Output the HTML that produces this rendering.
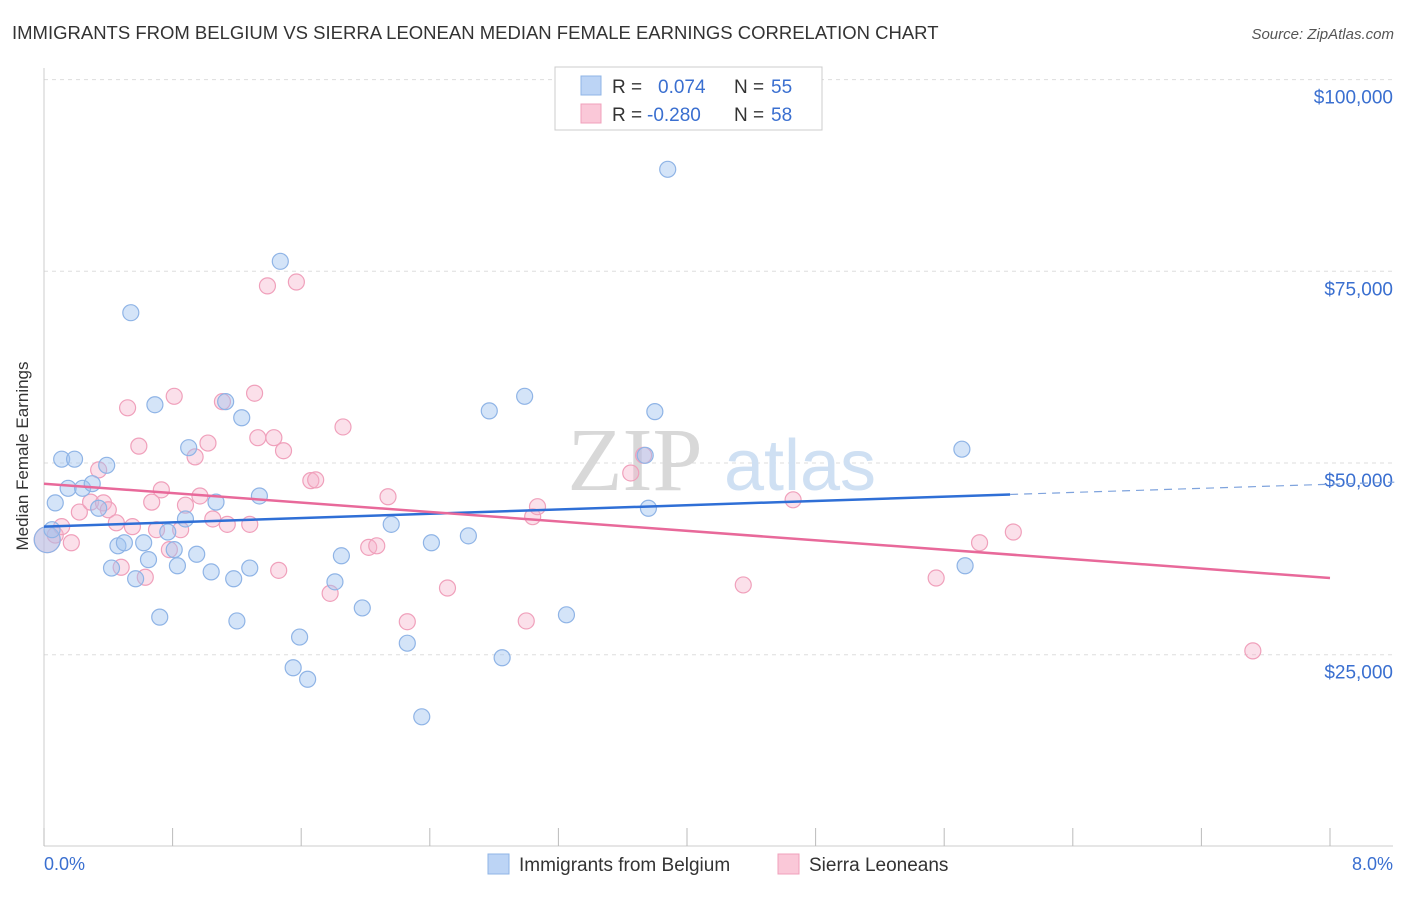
<!DOCTYPE html>
<html><head><meta charset="utf-8"><style>
body{margin:0;background:#fff;font-family:"Liberation Sans",sans-serif;}
</style></head><body>
<svg width="1406" height="892" xmlns="http://www.w3.org/2000/svg" style="font-family:'Liberation Sans',sans-serif">
<text x="12" y="39" font-size="18.5" fill="#333">IMMIGRANTS FROM BELGIUM VS SIERRA LEONEAN MEDIAN FEMALE EARNINGS CORRELATION CHART</text>
<text x="1394" y="39" font-size="15" fill="#555" text-anchor="end" font-style="italic">Source: ZipAtlas.com</text>
<g id="grid"></g>
<g><text x="635" y="490" font-size="90" fill="#d8d8d8" font-family="Liberation Serif,serif" text-anchor="middle">ZIP</text><text x="800" y="490" font-size="72" fill="#cfe0f3" text-anchor="middle">atlas</text></g>
<line x1="44" y1="68" x2="44" y2="846" stroke="#ccc"/>
<line x1="44" y1="846" x2="1393" y2="846" stroke="#ccc"/>
<g id="ticks"></g>
<text x="28" y="456" font-size="17" fill="#333" text-anchor="middle" transform="rotate(-90 28 456)">Median Female Earnings</text>
<text x="44" y="870" font-size="18" fill="#3a6fd0">0.0%</text>
<text x="1393" y="870" font-size="18" fill="#3a6fd0" text-anchor="end">8.0%</text>
<g id="pts"></g>
<g id="lines"></g>
<g>
<rect x="555" y="67" width="267" height="63" fill="#fff" stroke="#ccc"/>
<rect x="581" y="76" width="20" height="19" fill="#bcd4f5" stroke="#8fb4e6"/>
<rect x="581" y="104" width="20" height="19" fill="#fac8d8" stroke="#f0a0bb"/>
<text x="612" y="93" font-size="19" fill="#333">R = </text><text x="658" y="93" font-size="19" fill="#3a6fd0">0.074</text>
<text x="734" y="93" font-size="19" fill="#333">N = </text><text x="771" y="93" font-size="19" fill="#3a6fd0">55</text>
<text x="612" y="121" font-size="19" fill="#333">R = </text><text x="647" y="121" font-size="19" fill="#3a6fd0">-0.280</text>
<text x="734" y="121" font-size="19" fill="#333">N = </text><text x="771" y="121" font-size="19" fill="#3a6fd0">58</text>
</g>
<g>
<rect x="488" y="854" width="21" height="20" fill="#bcd4f5" stroke="#8fb4e6"/>
<text x="519" y="871" font-size="19" fill="#333">Immigrants from Belgium</text>
<rect x="778" y="854" width="21" height="20" fill="#fac8d8" stroke="#f0a0bb"/>
<text x="809" y="871" font-size="19" fill="#333">Sierra Leoneans</text>
</g>
</svg>
<script>
const yTicks=[25000,50000,75000,100000];
const yTickLabels=["$25,000","$50,000","$75,000","$100,000"];
const xTicks=[0,0.8,1.6,2.4,3.2,4,4.8,5.6,6.4,7.2,8];
const blueX=[0.07,0.11,0.19,0.15,0.24,0.30,0.34,0.39,0.42,0.46,0.50,0.57,0.54,0.62,0.65,0.69,0.72,0.77,0.81,0.83,0.88,0.90,0.95,1.04,1.07,1.13,1.18,1.20,1.23,1.28,1.34,1.47,1.59,1.55,1.64,1.81,1.85,1.98,2.16,2.26,2.35,2.41,2.64,2.77,2.85,2.99,3.25,3.74,3.76,3.80,3.88,5.71,5.73,0.02,0.05];
const blueY=[44800,50500,50500,46700,46700,47300,44100,49700,36300,39200,39600,34900,69600,39600,37400,57600,29900,41000,38700,36600,42700,52000,38100,35800,44900,58000,34900,29400,55900,36300,45700,76300,27300,23300,21800,34500,37900,31100,42000,26500,16900,39600,40500,56800,24600,58700,30200,51000,44100,56700,88300,51800,36600,40000,41300];
const pinkX=[0.02,0.07,0.11,0.17,0.22,0.29,0.34,0.37,0.40,0.45,0.48,0.52,0.55,0.59,0.63,0.67,0.70,0.73,0.78,0.81,0.85,0.88,0.94,0.97,1.02,1.05,1.11,1.14,1.28,1.31,1.33,1.39,1.43,1.46,1.49,1.57,1.66,1.69,1.78,1.86,2.02,2.07,2.14,2.26,2.51,3.00,3.04,3.07,3.65,3.73,4.35,4.66,5.55,5.82,6.03,7.52];
const pinkY=[40000,40600,41700,39600,43600,44900,49100,44800,43900,42200,36400,57200,41700,52200,35100,44900,41300,46500,38700,58700,41300,44500,50800,45700,52600,42700,58000,42000,42000,59100,53300,73100,53300,36000,51600,73600,47700,47800,33000,54700,39000,39200,45600,29300,33700,29400,43000,44300,48700,51000,34100,45200,35000,39600,41000,25500];
const blueTrend=[[0,41700],[6.01,45900]];
const blueDash=[[6.01,45900],[8.4,47500]];
const pinkTrend=[[0,47300],[8,35000]];
const NS="http://www.w3.org/2000/svg";
const xs=v=>44+v*160.75, ys=v=>463-(v-50000)*191.7/25000;
function mk(t,a,p){const e=document.createElementNS(NS,t);for(const k in a)e.setAttribute(k,a[k]);p.appendChild(e);return e;}
const grid=document.getElementById('grid');
yTicks.forEach((v,i)=>{
 const l=mk('line',{x1:44,x2:1393,y1:ys(v),y2:ys(v),stroke:'#ddd','stroke-dasharray':'4,4'},grid);
 
 
 const t=mk('text',{x:1393,y:ys(v)+24,'font-size':19,fill:'#3a6fd0','text-anchor':'end'},grid);
 t.textContent=yTickLabels[i];
 
 
});
const tk=document.getElementById('ticks');
xTicks.forEach(v=>{const l=mk('line',{x1:xs(v),x2:xs(v),y1:828,y2:846,stroke:'#bbb'},tk);
 
 });
const pts=document.getElementById('pts');
function dots(X,Y,fill,stroke,name){X.forEach((x,i)=>{const r=(x<0.03&&Y[i]===40000)?13:8;
 const c=mk('circle',{cx:xs(x),cy:ys(Y[i]),r:r,fill:fill,stroke:stroke,'stroke-width':1.2},pts);
 
 });}
dots(pinkX,pinkY,'rgba(246,178,202,0.4)','#f0a0bb','point-sierra');
dots(blueX,blueY,'rgba(160,196,240,0.45)','#8fb4e6','point-belgium');
const lg=document.getElementById('lines');
function ln(p,col,dash,name){const l=mk('line',{x1:xs(p[0][0]),y1:ys(p[0][1]),x2:xs(p[1][0]),y2:ys(p[1][1]),stroke:col,'stroke-width':dash?1.2:2.5},lg);
 if(dash)l.setAttribute('stroke-dasharray','8,6');
 
 }
ln(blueTrend,'#2f6fd6',false,'trend-belgium');
ln(blueDash,'#7fa3dd',true,'trend-belgium-extension');
ln(pinkTrend,'#e8699a',false,'trend-sierra');
</script>
</body></html>
